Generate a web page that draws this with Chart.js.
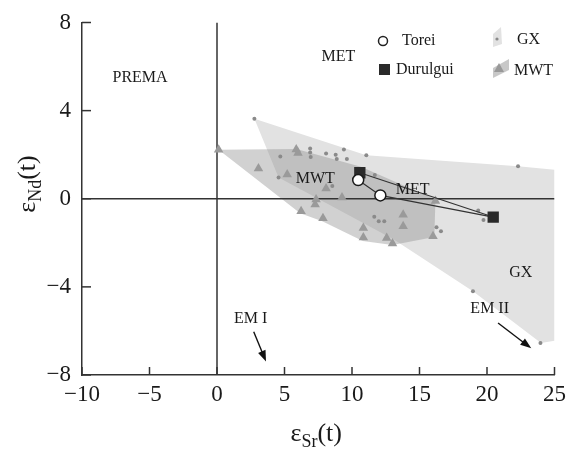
<!DOCTYPE html>
<html>
<head>
<meta charset="utf-8">
<script src="https://cdn.jsdelivr.net/npm/chart.js@4.4.0/dist/chart.umd.min.js"></script>
<style>
  html, body { margin: 0; padding: 0; background: #fff; }
</style>
</head>
<body>
<canvas id="myChart" width="574" height="451"></canvas>
<script>
// eSr(t) on x, eNd(t) on y
const toreiX = [10.46, 12.1];
const toreiY = [0.85, 0.15];
const durulguiX = [10.58, 20.46];
const durulguiY = [1.18, -0.83];

// GX samples (small dots)
const gxX = [2.77, 4.69, 4.56, 6.9, 6.9, 6.94, 8.08, 8.79, 8.87, 9.4, 9.62, 11.06, 11.69, 8.54,
  11.65, 11.98, 12.39, 16.26, 16.59, 19.35, 19.74, 22.3, 18.96, 23.96];
const gxY = [3.63, 1.92, 0.97, 2.28, 2.1, 1.9, 2.05, 2.0, 1.8, 2.23, 1.8, 1.98, 1.08, 0.58,
  -0.82, -1.02, -1.02, -1.29, -1.47, -0.53, -0.96, 1.47, -4.2, -6.55];

// MWT samples (triangles)
const mwtX = [0.12, 3.07, 5.2, 5.87, 6.0, 8.08, 7.34, 7.27, 9.26, 6.23, 7.85, 10.84, 10.84,
  12.57, 13.0, 13.79, 13.79, 16.0, 16.18];
const mwtY = [2.22, 1.37, 1.1, 2.24, 2.08, 0.46, -0.03, -0.26, 0.06, -0.57, -0.89, -1.33, -1.76,
  -1.78, -2.03, -0.73, -1.25, -1.7, -0.1];

// field outlines
const gxFieldX = [2.77, 11.06, 22.3, 25, 25, 24.0, 18.96, 13.1, 4.56, 2.77];
const gxFieldY = [3.63, 1.98, 1.47, 1.32, -6.45, -6.55, -4.2, -1.85, 0.97, 3.63];
const mwtFieldX = [0.12, 5.87, 10.66, 16.18, 16.1, 13.0, 10.8, 7.8, 6.16, 0.12];
const mwtFieldY = [2.22, 2.26, 1.45, -0.03, -1.74, -2.1, -1.92, -1.02, -0.66, 2.22];

const xTicks = [-10, -5, 0, 5, 10, 15, 20, 25];
const yTicks = [-8, -4, 0, 4, 8];

// text labels in data units
const regionLabels = ["PREMA", "MET", "MWT", "MET", "GX", "EM I", "EM II"];
const regionLabelX = [-5.7, 9.0, 7.28, 14.5, 22.5, 2.5, 20.2];
const regionLabelY = [5.5, 6.45, 0.91, 0.4, -3.38, -5.47, -5.0];
const arrowFromX = [2.72, 20.82];
const arrowFromY = [-6.04, -5.64];
const arrowToX = [3.63, 23.28];
const arrowToY = [-7.39, -6.79];

const pts = (xs, ys) => xs.map((x, i) => ({ x: x, y: ys[i] }));

const serif = '"Liberation Serif", "Times New Roman", serif';
Chart.defaults.font.family = serif;
Chart.defaults.color = "#222";

const extras = {
  id: "extras",
  afterDatasetsDraw(chart) {
    const { ctx, scales: { x, y } } = chart;
    ctx.save();
    ctx.fillStyle = "#1a1a1a";
    ctx.font = "16px " + serif;
    ctx.textAlign = "center";
    ctx.textBaseline = "middle";
    regionLabels.forEach((t, i) => {
      ctx.fillText(t, x.getPixelForValue(regionLabelX[i]), y.getPixelForValue(regionLabelY[i]));
    });
    // arrows
    ctx.strokeStyle = "#111";
    ctx.lineWidth = 1.4;
    arrowFromX.forEach((v, i) => {
      const x0 = x.getPixelForValue(v), y0 = y.getPixelForValue(arrowFromY[i]);
      const x1 = x.getPixelForValue(arrowToX[i]), y1 = y.getPixelForValue(arrowToY[i]);
      const a = Math.atan2(y1 - y0, x1 - x0);
      ctx.beginPath();
      ctx.moveTo(x0, y0);
      ctx.lineTo(x1 - 6 * Math.cos(a), y1 - 6 * Math.sin(a));
      ctx.stroke();
      ctx.beginPath();
      ctx.moveTo(x1, y1);
      ctx.lineTo(x1 - 11 * Math.cos(a) + 4 * Math.sin(a), y1 - 11 * Math.sin(a) - 4 * Math.cos(a));
      ctx.lineTo(x1 - 11 * Math.cos(a) - 4 * Math.sin(a), y1 - 11 * Math.sin(a) + 4 * Math.cos(a));
      ctx.closePath();
      ctx.fillStyle = "#111";
      ctx.fill();
    });

    // legend
    ctx.textAlign = "left";
    ctx.font = "16px " + serif;
    ctx.beginPath();
    ctx.arc(383, 41, 4.5, 0, Math.PI * 2);
    ctx.fillStyle = "#fff";
    ctx.fill();
    ctx.lineWidth = 1.5;
    ctx.strokeStyle = "#222";
    ctx.stroke();
    ctx.fillStyle = "#2a2a2a";
    ctx.fillRect(379, 64, 11, 11);
    ctx.fillStyle = "#1a1a1a";
    ctx.fillText("Torei", 402, 41);
    ctx.fillText("Durulgui", 396, 70);
    // GX icon
    ctx.fillStyle = "#e2e2e2";
    ctx.beginPath();
    ctx.moveTo(493, 34); ctx.lineTo(501, 27); ctx.lineTo(502, 44); ctx.lineTo(493, 47);
    ctx.closePath(); ctx.fill();
    ctx.fillStyle = "#8a8a8a";
    ctx.beginPath(); ctx.arc(497, 39, 1.6, 0, Math.PI * 2); ctx.fill();
    ctx.fillStyle = "#1a1a1a";
    ctx.fillText("GX", 517, 40);
    // MWT icon
    ctx.fillStyle = "#c8c8c8";
    ctx.beginPath();
    ctx.moveTo(493, 68); ctx.lineTo(509, 59); ctx.lineTo(509, 70); ctx.lineTo(493, 78);
    ctx.closePath(); ctx.fill();
    ctx.fillStyle = "#999";
    ctx.beginPath();
    ctx.moveTo(499, 63); ctx.lineTo(504, 72); ctx.lineTo(494, 72);
    ctx.closePath(); ctx.fill();
    ctx.fillStyle = "#1a1a1a";
    ctx.fillText("MWT", 514, 71);
    ctx.restore();
  },
  afterDraw(chart) {
    const { ctx, chartArea: ca, scales: { x, y } } = chart;
    ctx.save();
    ctx.strokeStyle = "#333";
    ctx.lineWidth = 1.5;
    xTicks.forEach(v => {
      const px = x.getPixelForValue(v);
      ctx.beginPath(); ctx.moveTo(px, ca.bottom); ctx.lineTo(px, ca.bottom - 8); ctx.stroke();
    });
    yTicks.forEach(v => {
      const py = y.getPixelForValue(v);
      ctx.beginPath(); ctx.moveTo(ca.left, py); ctx.lineTo(ca.left + 9, py); ctx.stroke();
    });
    // axis titles with subscripts
    ctx.fillStyle = "#1a1a1a";
    ctx.textBaseline = "alphabetic";
    ctx.textAlign = "left";
    const drawTitle = (sub) => {
      const big = "26px " + serif, small = "18px " + serif;
      ctx.font = big; const w1 = ctx.measureText("\u03b5").width;
      ctx.font = small; const w2 = ctx.measureText(sub).width;
      ctx.font = big; const w3 = ctx.measureText("(t)").width;
      let cx = -(w1 + w2 + w3) / 2;
      ctx.font = big; ctx.fillText("\u03b5", cx, 0); cx += w1;
      ctx.font = small; ctx.fillText(sub, cx, 6); cx += w2;
      ctx.font = big; ctx.fillText("(t)", cx, 0);
    };
    ctx.save();
    ctx.translate((ca.left + ca.right) / 2 - 2, 441);
    drawTitle("Sr");
    ctx.restore();
    ctx.save();
    ctx.translate(35, 184);
    ctx.rotate(-Math.PI / 2);
    drawTitle("Nd");
    ctx.restore();
    ctx.restore();
  }
};

const ctx = document.getElementById("myChart").getContext("2d");
const myChart = new Chart(ctx, {
  type: "scatter",
  data: {
    datasets: [
      {
        label: "Torei",
        data: pts(toreiX, toreiY),
        pointStyle: "circle",
        pointRadius: 5.5,
        pointBackgroundColor: "#fff",
        pointBorderColor: "#1a1a1a",
        pointBorderWidth: 1.5,
        order: 1,
      },
      {
        label: "Durulgui",
        data: pts(durulguiX, durulguiY),
        pointStyle: "rect",
        pointRadius: 8,
        pointBackgroundColor: "#2a2a2a",
        pointBorderColor: "#2a2a2a",
        pointBorderWidth: 0,
        order: 2,
      },
      {
        label: "Durulgui trend",
        data: pts(durulguiX, durulguiY),
        showLine: true,
        pointRadius: 0,
        borderColor: "#333",
        borderWidth: 1.2,
        order: 3,
      },
      {
        label: "Torei trend",
        data: pts(toreiX.concat([durulguiX[1]]), toreiY.concat([durulguiY[1]])),
        showLine: true,
        pointRadius: 0,
        borderColor: "#333",
        borderWidth: 1.2,
        order: 3,
      },
      {
        label: "MWT",
        data: pts(mwtX, mwtY),
        pointStyle: "triangle",
        pointRadius: 5.5,
        pointBackgroundColor: "#9a9a9a",
        pointBorderColor: "#9a9a9a",
        pointBorderWidth: 0,
        order: 4,
      },
      {
        label: "GX",
        data: pts(gxX, gxY),
        pointRadius: 2,
        pointBackgroundColor: "#8a8a8a",
        pointBorderColor: "#8a8a8a",
        pointBorderWidth: 0,
        order: 5,
      },
      {
        label: "zero x",
        data: [{ x: xTicks[0], y: 0 }, { x: xTicks[xTicks.length - 1], y: 0 }],
        showLine: true,
        pointRadius: 0,
        borderColor: "#333",
        borderWidth: 1.5,
        order: 6,
      },
      {
        label: "zero y",
        data: [{ x: 0, y: yTicks[0] }, { x: 0, y: yTicks[yTicks.length - 1] }],
        showLine: true,
        pointRadius: 0,
        borderColor: "#333",
        borderWidth: 1.5,
        order: 6,
      },
      {
        label: "MWT field",
        data: pts(mwtFieldX, mwtFieldY),
        showLine: true,
        pointRadius: 0,
        borderWidth: 0,
        borderColor: "rgba(0,0,0,0)",
        backgroundColor: "rgba(145,145,145,0.42)",
        fill: "shape",
        order: 7,
      },
      {
        label: "GX field",
        data: pts(gxFieldX, gxFieldY),
        showLine: true,
        pointRadius: 0,
        borderWidth: 0,
        borderColor: "rgba(0,0,0,0)",
        backgroundColor: "#e2e2e2",
        fill: "shape",
        order: 8,
      },
    ],
  },
  options: {
    responsive: false,
    animation: false,
    layout: { padding: { top: 19, right: 17, left: 0, bottom: 0 } },
    plugins: {
      legend: { display: false },
      tooltip: { enabled: false },
    },
    scales: {
      x: {
        type: "linear",
        min: -10,
        max: 25,
        afterBuildTicks: (s) => { s.ticks = xTicks.map(v => ({ value: v })); },
        afterFit: (s) => { s.height = 76; },
        grid: { display: true, drawOnChartArea: false, drawTicks: false },
        border: { display: true, color: "#333", width: 1.5 },
        ticks: {
          padding: 8,
          autoSkip: false,
          maxRotation: 0,
          minRotation: 0,
          color: "#1a1a1a",
          font: { size: 23, lineHeight: 1 },
          callback: (v) => (v < 0 ? "\u2212" + Math.abs(v) : "" + v),
        },
      },
      y: {
        type: "linear",
        min: -8,
        max: 8,
        afterBuildTicks: (s) => { s.ticks = yTicks.map(v => ({ value: v })); },
        afterFit: (s) => { s.width = 82; },
        grid: { display: true, drawOnChartArea: false, drawTicks: false },
        border: { display: true, color: "#333", width: 1.5 },
        ticks: {
          padding: 11,
          color: "#1a1a1a",
          font: { size: 23, lineHeight: 1 },
          callback: (v) => (v < 0 ? "\u2212" + Math.abs(v) : "" + v),
        },
      },
    },
  },
  plugins: [extras],
});
</script>
</body>
</html>
